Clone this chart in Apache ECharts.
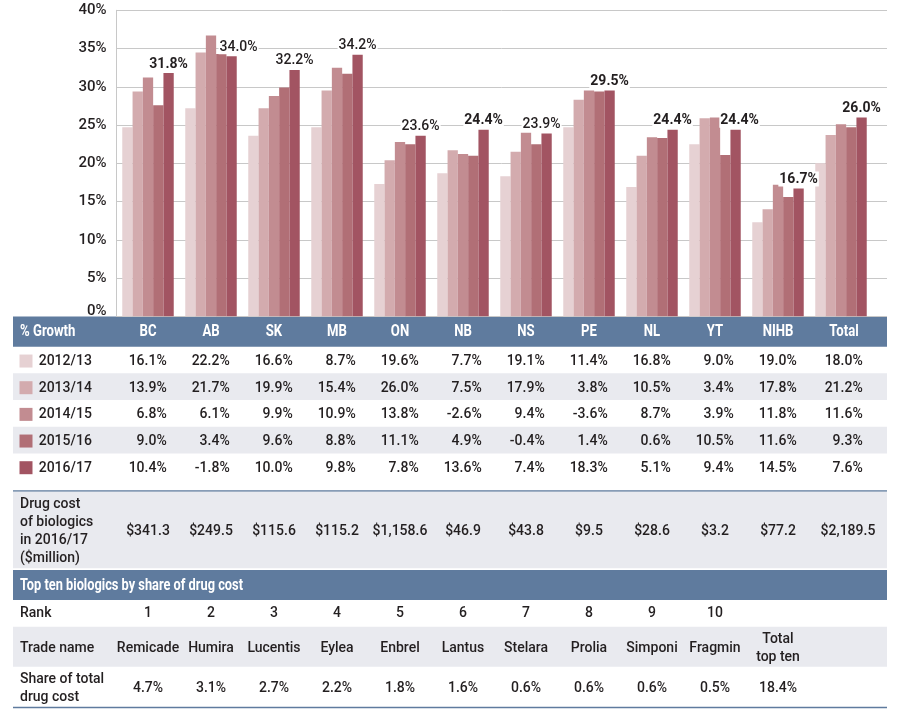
<!DOCTYPE html>
<html><head><meta charset="utf-8">
<script src="https://cdn.jsdelivr.net/npm/echarts@6/dist/echarts.min.js"></script>
<style>html,body{margin:0;padding:0;background:#fff}#c{width:899px;height:715px}</style>
</head><body><div id="c"></div>
<script>
// ---- data ----
const categories = ['BC','AB','SK','MB','ON','NB','NS','PE','NL','YT','NIHB','Total'];
const years = ['2012/13','2013/14','2014/15','2015/16','2016/17'];
const share2012 = [24.7,27.2,23.6,24.7,17.3,18.7,18.3,24.7,16.9,22.5,12.3,20.0];
const share2013 = [29.4,34.5,27.2,29.5,20.4,21.7,21.5,28.3,21.0,25.9,14.0,23.7];
const share2014 = [31.2,36.7,28.8,32.5,22.8,21.2,24.0,29.5,23.4,26.0,17.2,25.1];
const share2015 = [27.6,34.3,29.9,31.7,22.5,21.0,22.5,29.4,23.3,21.1,15.6,24.7];
const share2016 = [31.8,34.0,32.2,34.2,23.6,24.4,23.9,29.5,24.4,24.4,16.7,26.0];
const growth2012 = [16.1,22.2,16.6,8.7,19.6,7.7,19.1,11.4,16.8,9.0,19.0,18.0];
const growth2013 = [13.9,21.7,19.9,15.4,26.0,7.5,17.9,3.8,10.5,3.4,17.8,21.2];
const growth2014 = [6.8,6.1,9.9,10.9,13.8,-2.6,9.4,-3.6,8.7,3.9,11.8,11.6];
const growth2015 = [9.0,3.4,9.6,8.8,11.1,4.9,-0.4,1.4,0.6,10.5,11.6,9.3];
const growth2016 = [10.4,-1.8,10.0,9.8,7.8,13.6,7.4,18.3,5.1,9.4,14.5,7.6];
const drugCost = [341.3,249.5,115.6,115.2,1158.6,46.9,43.8,9.5,28.6,3.2,77.2,2189.5];
const ranks = [1,2,3,4,5,6,7,8,9,10];
const tradeNames = ['Remicade','Humira','Lucentis','Eylea','Enbrel','Lantus','Stelara','Prolia','Simponi','Fragmin'];
const shareOfTotal = [4.7,3.1,2.7,2.2,1.8,1.6,0.6,0.6,0.6,0.5];
const totalTopTen = 18.4;
const yTicks = [0,5,10,15,20,25,30,35,40];

// ---- styling / layout ----
const shares = [share2012,share2013,share2014,share2015,share2016];
const growths = [growth2012,growth2013,growth2014,growth2015,growth2016];
const colors = ['#e6d1d3','#d3abae','#c28c91','#b16f76','#a25462'];
const FONT = 'Roboto';
const BODY = '500 14px ' + FONT;
const TXT = '#231f20';
const BAND = '#5f7b9e';
const GRAY = '#e9eaef';
const L = 13, R = 887;
const rowTop = 346.7, rowH = 26.67;
const boldLabel = new Set([0,5,7,8,9,10,11]);
const labelShift = {1:[7,0],6:[-5,0],9:[4,0]};
const pct = v => v.toFixed(1) + '%';
const money = v => '$' + v.toLocaleString('en-US',{minimumFractionDigits:1,maximumFractionDigits:1});

const chart = echarts.init(document.getElementById('c'), null, {renderer:'canvas'});

// graphic decorations
const g = [];
const rect = (y,h,fill) => g.push({type:'rect', z:0, shape:{x:L,y:y,width:R-L,height:h}, style:{fill:fill}});
rect(316.5, 30.2, BAND);
rect(rowTop+rowH, rowH, GRAY);
rect(rowTop+3*rowH, rowH, GRAY);
rect(490.3, 1.5, BAND);
rect(491.8, 76.5, GRAY);
rect(570, 30, BAND);
rect(626.7, 40, GRAY);
rect(706.8, 1.5, BAND);
const gtext = (x,y,text,opt) => g.push(Object.assign({type:'text', z:5, x:x, y:y,
  style:{text:text, fill:(opt&&opt.fill)||TXT, font:(opt&&opt.font)||BODY,
    textAlign:'left', align:'left', textVerticalAlign:'middle', verticalAlign:'middle', lineHeight:18}}, (opt&&opt.el)||{}));
gtext(20, 331.5, '% Growth', {fill:'#fff', font:'bold 16px '+FONT, el:{scaleX:0.82}});
years.forEach((yr,i) => {
  const cy = rowTop + rowH*(i+0.5);
  g.push({type:'rect', z:5, shape:{x:19.5,y:cy-6.5+1,width:13,height:13}, style:{fill:colors[i]}});
  gtext(38.7, cy+1.5, yr);
});
gtext(20, 531, 'Drug cost\nof biologics\nin 2016/17\n($million)');
gtext(20, 585.5, 'Top ten biologics by share of drug cost', {fill:'#fff', font:'bold 16px '+FONT, el:{scaleX:0.8}});
gtext(20, 613.8, 'Rank');
gtext(20, 648.8, 'Trade name');
gtext(20, 688.8, 'Share of total\ndrug cost');

// table text via custom series on the bar grid's category axis
const items = [];
categories.forEach((c,i) => items.push({col:i, y:331.5, text:c, fill:'#fff', font:'bold 16px '+FONT, align:'center', sx:0.82}));
growths.forEach((arr,r) => arr.forEach((v,i) => items.push({col:i, y:rowTop+rowH*(r+0.5)+1.5, text:pct(v), align:'right', dx:18.7})));
drugCost.forEach((v,i) => items.push({col:i, y:531.8, text:money(v), align:'center', dx: i===11?4:0}));
ranks.forEach((v,i) => items.push({col:i, y:613.8, text:String(v), align:'center'}));
tradeNames.forEach((v,i) => items.push({col:i, y:648.8, text:v, align:'center'}));
items.push({col:10, y:648.8, text:'Total\ntop ten', align:'center'});
shareOfTotal.forEach((v,i) => items.push({col:i, y:688.8, text:pct(v), align:'center'}));
items.push({col:10, y:688.8, text:pct(totalTopTen), align:'center'});

const tableSeries = {
  type:'custom', xAxisIndex:1, yAxisIndex:1, silent:true, z:10, clip:false,
  data: items.map((it,i) => [it.col, 0, i]),
  renderItem: (params, api) => {
    const it = items[params.dataIndex];
    const col = api.value(0);
    const x = api.coord([col, 0])[0] + (col===11?3:0) + (it.dx||0);
    return {type:'text', x:x, y:it.y, scaleX: it.sx||1, z2:10,
      style:{text:it.text, fill:it.fill||TXT, font:it.font||BODY,
        textAlign:it.align, align:it.align, textVerticalAlign:'middle', verticalAlign:'middle', lineHeight:18}};
  }
};

const barSeries = years.map((yr,s) => ({
  name: yr, type:'bar', xAxisIndex:1, yAxisIndex:1,
  barGap:'0%', barCategoryGap:'18.3%',
  itemStyle:{color:colors[s]},
  data: s<4 ? shares[s] : shares[s].map((v,i) => ({value:v, label:{
      fontWeight: boldLabel.has(i)?'bold':500, offset: labelShift[i]||[0,0]}})),
  label: s<4 ? {show:false} : {show:true, position:'top', distance:2, color:TXT,
      fontFamily:FONT, fontSize:14, backgroundColor:'#fff', padding:[1,1,0,1],
      formatter: p => pct(p.value)},
  emphasis:{disabled:true}
}));

chart.setOption({
  animation:false,
  textStyle:{fontFamily:FONT},
  grid:[
    {left:116.5, top:10.3, width:R-116.5, height:306, containLabel:false},
    {left:116.5, top:10.3, width:756, height:306, containLabel:false}
  ],
  xAxis:[
    {type:'value', gridIndex:0, min:0, max:1, show:false},
    {type:'category', gridIndex:1, data:categories, show:false}
  ],
  yAxis:[
    {type:'value', gridIndex:0, min:yTicks[0], max:yTicks[yTicks.length-1], interval:yTicks[1]-yTicks[0],
     axisLine:{show:true, lineStyle:{color:'#c8c8c8', width:1}}, axisTick:{show:false},
     splitLine:{lineStyle:{color:'#c8c8c8', width:1}},
     axisLabel:{margin:10, color:TXT, fontSize:15, fontWeight:500, fontFamily:FONT,
       formatter: v => v===0 ? '{z|0%}' : v+'%', rich:{z:{fontSize:15, fontWeight:500, fontFamily:FONT, color:TXT, padding:[0,0,10,0]}}}},
    {type:'value', gridIndex:1, min:yTicks[0], max:yTicks[yTicks.length-1], show:false}
  ],
  series: barSeries.concat([tableSeries]),
  graphic: g
});
</script></body></html>
